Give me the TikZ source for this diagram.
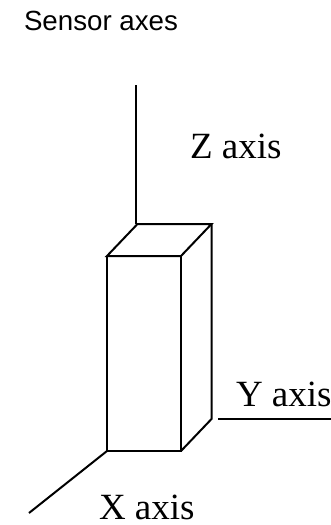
\documentclass[tikz,border=0pt]{standalone}
\usepackage{fontspec}
\setmainfont{Liberation Serif}
\newfontfamily\sansf{Liberation Sans}
\begin{document}
\begin{tikzpicture}[x=1pt,y=-1pt,
  edge/.style={draw=black,line width=2pt,line join=miter,line cap=butt},
  sanslabel/.style={anchor=base west,inner sep=0pt,outer sep=0pt,font=\sansf\fontsize{27.7}{30}\selectfont},
  seriflabel/.style={anchor=base west,inner sep=0pt,outer sep=0pt,font=\fontsize{37}{40}\selectfont}]
\useasboundingbox (0,0) rectangle (331,525);
\coordinate (ztop) at (136,85);
\coordinate (zbot) at (136,224);
\coordinate (bl) at (137.5,224);
\coordinate (br) at (211.5,224);
\coordinate (tl) at (107,256);
\coordinate (tr) at (181,256);
\coordinate (fl) at (107,451);
\coordinate (fr) at (181,451);
\coordinate (brb) at (211.5,419);
\coordinate (yl) at (218,419);
\coordinate (yr) at (331,419);
\coordinate (xe) at (29,513);
\node[sanslabel] (title) at (24,30.7) {Sensor axes};
\node[seriflabel] (zlabel) at (190,158) {Z axis};
\node[seriflabel] (ylabel) at (236,406.7) {Y axis};
\node[seriflabel] (xlabel) at (99,519) {X axis};
\draw[edge] (ztop) -- (zbot);
\draw[edge] (tl) -- (bl) -- (br) -- (tr) -- cycle;
\draw[edge] (tl) -- (fl) -- (fr) -- (tr);
\draw[edge] (br) -- (brb) -- (fr);
\draw[edge] (yl) -- (yr);
\draw[edge] (fl) -- (xe);
\end{tikzpicture}
\end{document}
